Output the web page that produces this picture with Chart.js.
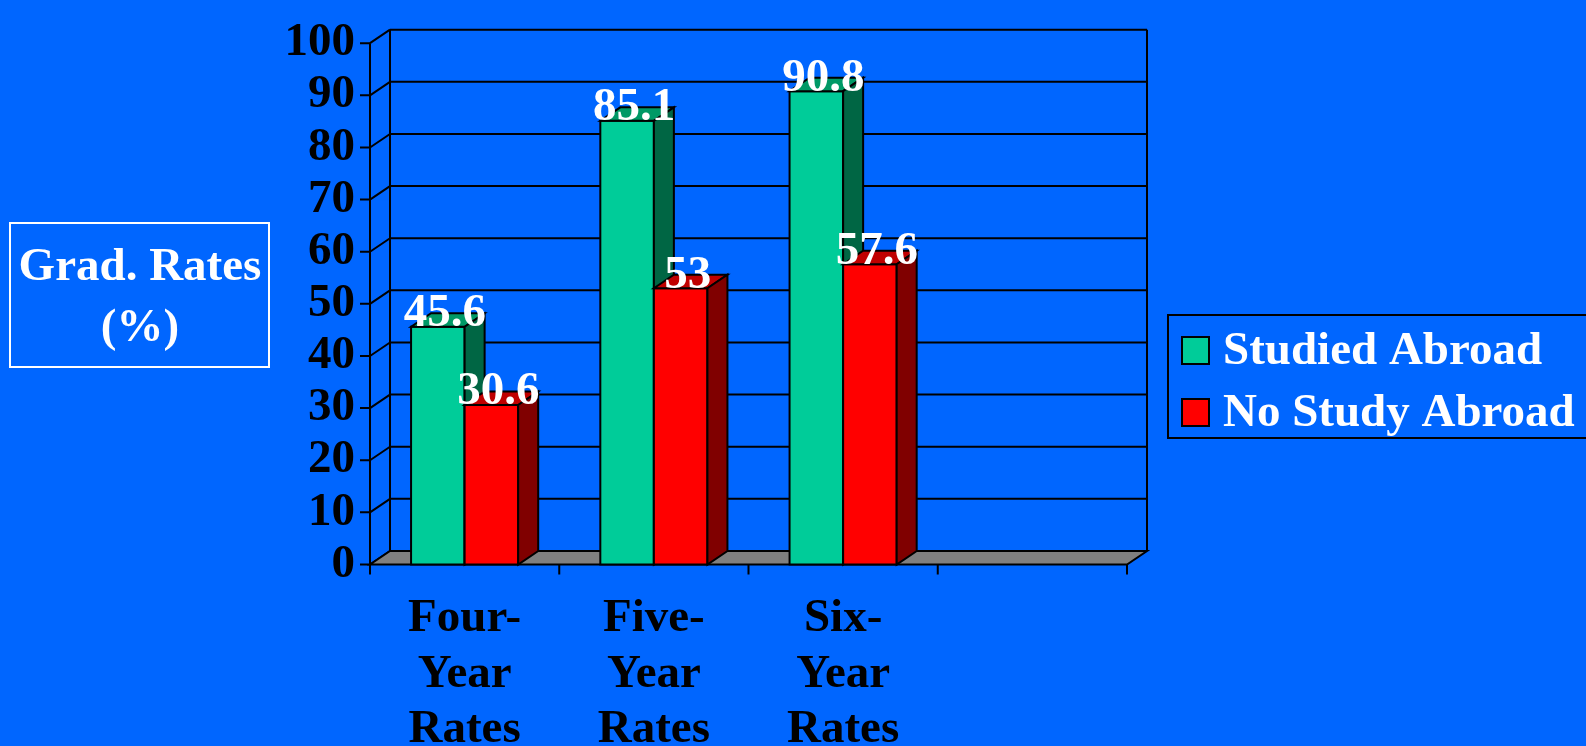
<!DOCTYPE html>
<html>
<head>
<meta charset="utf-8">
<script src="https://cdn.jsdelivr.net/npm/chart.js@4/dist/chart.umd.min.js"></script>
<style>
  html, body { margin: 0; padding: 0; background: #0066ff; }
  #wrap { width: 1586px; height: 746px; position: relative; }
</style>
</head>
<body>
<div id="wrap"><canvas id="gradChart"></canvas></div>
<script>
const categories = [['Four-', 'Year', 'Rates'], ['Five-', 'Year', 'Rates'], ['Six-', 'Year', 'Rates'], '']
const studiedAbroad = [45.6, 85.1, 90.8, null]
const noStudyAbroad = [30.6, 53, 57.6, null]
const yTicks = [0, 10, 20, 30, 40, 50, 60, 70, 80, 90, 100]
const yTitle = ['Grad. Rates', '(%)']

const FONT = '"Liberation Serif", "Times New Roman", serif'
const DX = 20
const DY = -13.5

// front, top, side colours per series
const shades = [
  { front: '#00cc99', top: '#009966', side: '#006644' },
  { front: '#ff0000', top: '#c00000', side: '#800000' },
]

function poly(ctx, pts, fill) {
  ctx.beginPath()
  ctx.moveTo(pts[0][0], pts[0][1])
  for (let i = 1; i < pts.length; i++) ctx.lineTo(pts[i][0], pts[i][1])
  ctx.closePath()
  if (fill) {
    ctx.fillStyle = fill
    ctx.fill()
  }
  ctx.stroke()
}

const threeD = {
  id: 'threeD',
  beforeDatasetsDraw(chart) {
    const ctx = chart.ctx
    const x = chart.scales.x
    const y = chart.scales.y
    const a = chart.chartArea
    const y0 = y.getPixelForValue(0)
    const yTop = y.getPixelForValue(100)
    ctx.save()
    ctx.strokeStyle = '#000'
    ctx.lineWidth = 2

    // back wall grid + left wall diagonals
    yTicks.forEach(v => {
      const py = y.getPixelForValue(v)
      ctx.beginPath()
      if (v > 0) {
        ctx.moveTo(a.left + DX, py + DY)
        ctx.lineTo(a.right + DX, py + DY)
      }
      ctx.moveTo(a.left, py)
      ctx.lineTo(a.left + DX, py + DY)
      ctx.stroke()
    })
    ctx.beginPath()
    ctx.moveTo(a.left + DX, y0 + DY)
    ctx.lineTo(a.left + DX, yTop + DY)
    ctx.moveTo(a.right + DX, y0 + DY)
    ctx.lineTo(a.right + DX, yTop + DY)
    ctx.stroke()

    // floor
    poly(ctx, [[a.left, y0], [a.right, y0], [a.right + DX, y0 + DY], [a.left + DX, y0 + DY]], '#808080')

    // front value axis with ticks
    ctx.beginPath()
    ctx.moveTo(a.left, yTop)
    ctx.lineTo(a.left, y0)
    yTicks.forEach(v => {
      const py = y.getPixelForValue(v)
      ctx.moveTo(a.left - 10, py)
      ctx.lineTo(a.left, py)
    })
    // category ticks between groups
    const n = categories.length
    for (let i = 0; i <= n; i++) {
      const px = x.getPixelForValue(i - 0.5)
      ctx.moveTo(px, y0)
      ctx.lineTo(px, y0 + 10)
    }
    ctx.stroke()

    // bars, category by category so the second series hides the first's side
    const metas = chart.data.datasets.map((d, i) => chart.getDatasetMeta(i))
    for (let c = 0; c < n; c++) {
      metas.forEach((meta, di) => {
        const bar = meta.data[c]
        const val = chart.data.datasets[di].data[c]
        if (!bar || val == null) return
        const l = bar.x - bar.width / 2
        const r = bar.x + bar.width / 2
        const t = bar.y
        const b = bar.base
        const s = shades[di]
        poly(ctx, [[l, b], [l, t], [r, t], [r, b]], s.front)
        poly(ctx, [[l, t], [l + DX, t + DY], [r + DX, t + DY], [r, t]], s.top)
        poly(ctx, [[r, t], [r + DX, t + DY], [r + DX, b + DY], [r, b]], s.side)
      })
    }

    // value labels
    ctx.fillStyle = '#fff'
    ctx.font = 'bold 47px ' + FONT
    ctx.textAlign = 'center'
    ctx.textBaseline = 'middle'
    metas.forEach((meta, di) => {
      meta.data.forEach((bar, c) => {
        const val = chart.data.datasets[di].data[c]
        if (val == null) return
        ctx.fillText(String(val), bar.x + DX / 2 - 3, bar.y + DY / 2 - 6)
      })
    })
    ctx.restore()
    return false
  },
  afterDraw(chart) {
    const ctx = chart.ctx
    ctx.save()
    ctx.font = 'bold 47px ' + FONT
    ctx.textBaseline = 'middle'

    // value axis title box
    ctx.strokeStyle = '#fff'
    ctx.lineWidth = 2
    ctx.strokeRect(10, 223, 259, 144)
    ctx.fillStyle = '#fff'
    ctx.textAlign = 'center'
    ctx.fillText(yTitle[0], 140, 268)
    ctx.fillText(yTitle[1], 140, 329)

    // legend
    ctx.strokeStyle = '#000'
    ctx.strokeRect(1168, 315, 460, 123)
    ctx.textAlign = 'left'
    chart.data.datasets.forEach((ds, i) => {
      const cy = 350 + i * 62
      ctx.fillStyle = ds.backgroundColor
      ctx.fillRect(1182, cy - 13, 27, 27)
      ctx.strokeRect(1182, cy - 13, 27, 27)
      ctx.fillStyle = '#fff'
      ctx.fillText(ds.label, 1223, cy + 2)
    })
    ctx.restore()
  },
}

const chart = new Chart(document.getElementById('gradChart'), {
  type: 'bar',
  data: {
    labels: categories,
    datasets: [
      { label: 'Studied Abroad', data: studiedAbroad, backgroundColor: shades[0].front },
      { label: 'No Study Abroad', data: noStudyAbroad, backgroundColor: shades[1].front },
    ],
  },
  options: {
    responsive: true,
    maintainAspectRatio: false,
    devicePixelRatio: 1,
    animation: false,
    events: [],
    layout: { padding: { left: 270, top: 27, right: 459, bottom: 0 } },
    datasets: { bar: { categoryPercentage: 0.566, barPercentage: 1 } },
    plugins: { legend: { display: false }, tooltip: { enabled: false } },
    scales: {
      x: {
        grid: { display: false, drawTicks: false },
        border: { display: false },
        ticks: {
          color: '#000',
          font: { family: FONT, size: 47, weight: 'bold', lineHeight: 1.19 },
          padding: 26,
          maxRotation: 0,
          autoSkip: false,
        },
        afterFit(scale) { scale.height = 181.5 },
      },
      y: {
        min: 0,
        max: 100,
        grid: { display: false, drawTicks: false },
        border: { display: false },
        ticks: {
          stepSize: 10,
          autoSkip: false,
          color: '#000',
          font: { family: FONT, size: 47, weight: 'bold' },
          padding: 15,
        },
        afterFit(scale) { scale.width = 100 },
      },
    },
  },
  plugins: [threeD],
})
</script>
</body>
</html>
